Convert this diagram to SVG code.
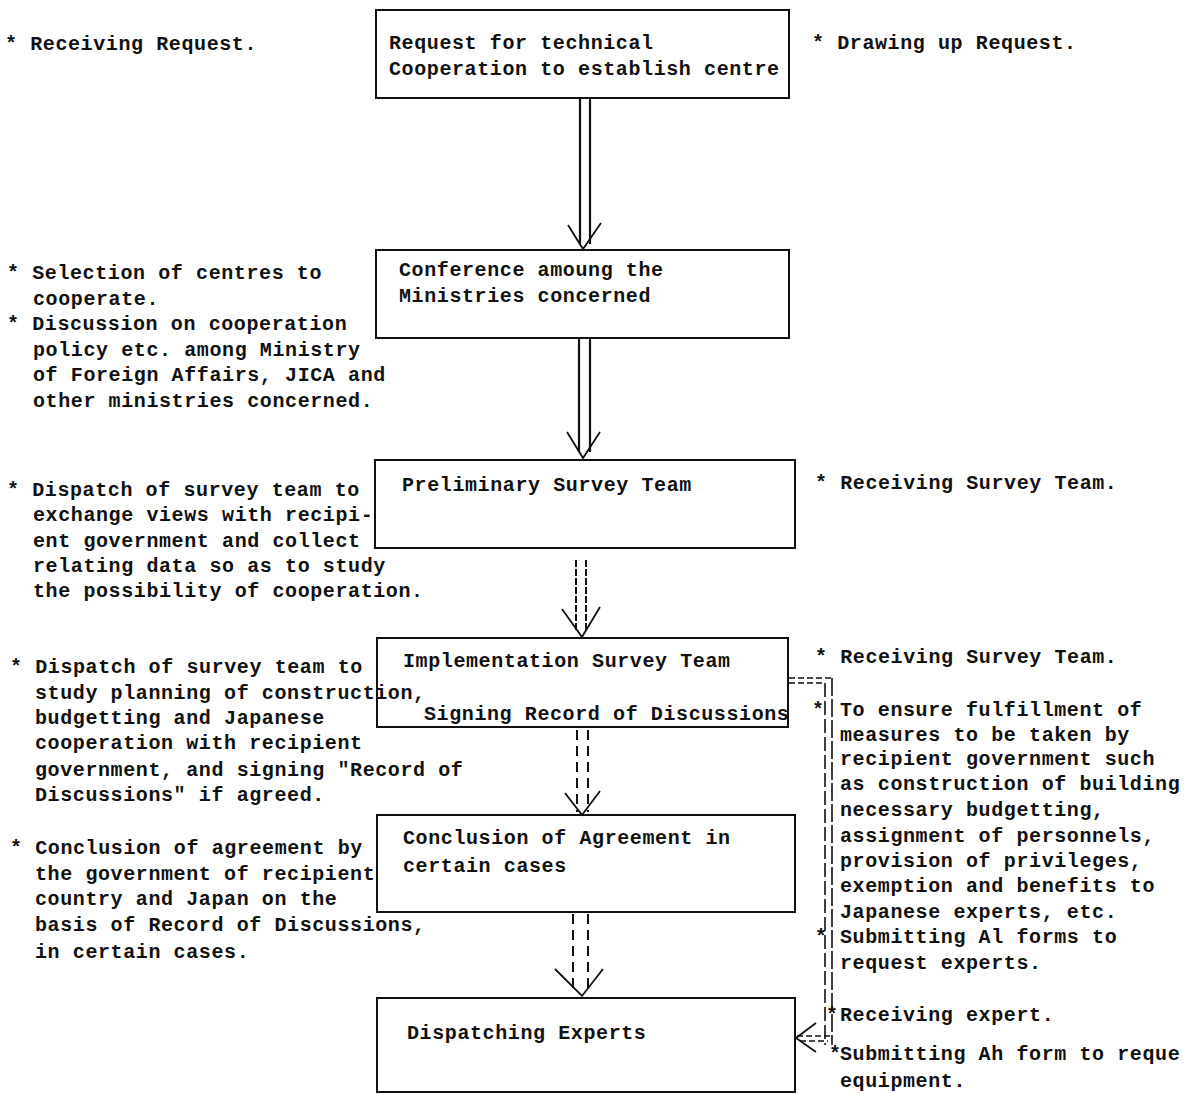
<svg xmlns="http://www.w3.org/2000/svg" width="1187" height="1094" viewBox="0 0 1187 1094">
<style>
.t{font-family:"Liberation Mono","Courier New",monospace;font-size:20px;letter-spacing:0.6px;fill:#111;font-weight:bold}
.box{fill:none;stroke:#111;stroke-width:2}
.ln{fill:none;stroke:#111;stroke-width:2.2}
.dl{fill:none;stroke:#111;stroke-width:2;stroke-dasharray:10 6}
.rough{fill:none;stroke:#111;stroke-width:2;stroke-dasharray:7 2}
.hd{fill:none;stroke:#111;stroke-width:1.8;stroke-linejoin:miter}
</style>
<rect width="1187" height="1094" fill="#fff"/>

<g id="connectors">
  <g id="a1">
    <line class="ln" x1="580" y1="98" x2="580" y2="244"/>
    <line class="ln" x1="590" y1="98" x2="590" y2="244"/>
    <polyline class="hd" points="568,225 583,249 601,223"/>
  </g>
  <g id="a2">
    <line class="ln" x1="579" y1="339" x2="579" y2="452"/>
    <line class="ln" x1="590" y1="339" x2="590" y2="452"/>
    <polyline class="hd" points="567,432 583,458 600,432"/>
  </g>
  <g id="a3">
    <line class="rough" x1="576" y1="560" x2="576" y2="632"/>
    <line class="rough" x1="586" y1="560" x2="586" y2="632"/>
    <polyline class="hd" points="562,609 582,637 600,607"/>
  </g>
  <g id="a4">
    <line class="dl" x1="577" y1="730" x2="577" y2="812"/>
    <line class="dl" x1="588" y1="730" x2="588" y2="812"/>
    <polyline class="hd" points="565,793 582,815 600,791"/>
  </g>
  <g id="a5">
    <line class="dl" x1="573" y1="914" x2="573" y2="990"/>
    <line class="dl" x1="588" y1="914" x2="588" y2="990"/>
    <polyline class="hd" points="555,969 582,996 603,969"/>
  </g>
  <g id="a6">
    <line class="dl" x1="789" y1="678" x2="831" y2="678" style="stroke-dasharray:6 3;stroke-width:1.6"/>
    <line class="dl" x1="789" y1="683" x2="825" y2="683" style="stroke-dasharray:6 3;stroke-width:1.6"/>
    <line class="dl" x1="825" y1="683" x2="825" y2="1045" style="stroke-dasharray:14 4;stroke-width:1.6"/>
    <line class="dl" x1="832" y1="678" x2="832" y2="1045" style="stroke-dasharray:18 3;stroke-width:1.6"/>
    <line class="dl" x1="797" y1="1036" x2="832" y2="1036" style="stroke-dasharray:6 3;stroke-width:1.4"/>
    <line class="dl" x1="800" y1="1041" x2="828" y2="1041" style="stroke-dasharray:6 3;stroke-width:1.4"/>
    <polyline class="hd" points="816,1023 796,1038 816,1052"/>
  </g>
</g>

<g id="n1">
  <rect class="box" x="376" y="10" width="413" height="88"/>
  <text class="t" x="389" y="49">Request for technical</text>
  <text class="t" x="389" y="75">Cooperation to establish centre</text>
</g>
<g id="n2">
  <rect class="box" x="376" y="250" width="413" height="88"/>
  <text class="t" x="399" y="276">Conference amoung the</text>
  <text class="t" x="399" y="302">Ministries concerned</text>
</g>
<g id="n3">
  <rect class="box" x="375" y="460" width="420" height="88"/>
  <text class="t" x="402" y="491">Preliminary Survey Team</text>
</g>
<g id="n4">
  <rect class="box" x="377" y="638" width="411" height="89"/>
  <text class="t" x="403" y="667">Implementation Survey Team</text>
  <text class="t" x="424" y="720">Signing Record of Discussions</text>
</g>
<g id="n5">
  <rect class="box" x="377" y="815" width="418" height="97"/>
  <text class="t" x="403" y="844">Conclusion of Agreement in</text>
  <text class="t" x="403" y="872">certain cases</text>
</g>
<g id="n6">
  <rect class="box" x="377" y="998" width="418" height="94"/>
  <text class="t" x="407" y="1039">Dispatching Experts</text>
</g>

<g id="notes-left">
  <text class="t" x="5" y="50">* Receiving Request.</text>
  <text class="t" x="7" y="279">* Selection of centres to</text>
  <text class="t" x="33" y="305">cooperate.</text>
  <text class="t" x="7" y="330">* Discussion on cooperation</text>
  <text class="t" x="33" y="356">policy etc. among Ministry</text>
  <text class="t" x="33" y="381">of Foreign Affairs, JICA and</text>
  <text class="t" x="33" y="407">other ministries concerned.</text>
  <text class="t" x="7" y="496">* Dispatch of survey team to</text>
  <text class="t" x="33" y="521">exchange views with recipi-</text>
  <text class="t" x="33" y="547">ent government and collect</text>
  <text class="t" x="33" y="572">relating data so as to study</text>
  <text class="t" x="33" y="597">the possibility of cooperation.</text>
  <text class="t" x="10" y="673">* Dispatch of survey team to</text>
  <text class="t" x="35" y="699">study planning of construction,</text>
  <text class="t" x="35" y="724">budgetting and Japanese</text>
  <text class="t" x="35" y="749">cooperation with recipient</text>
  <text class="t" x="35" y="776">government, and signing "Record of</text>
  <text class="t" x="35" y="801">Discussions" if agreed.</text>
  <text class="t" x="10" y="854">* Conclusion of agreement by</text>
  <text class="t" x="35" y="880">the government of recipient</text>
  <text class="t" x="35" y="905">country and Japan on the</text>
  <text class="t" x="35" y="931">basis of Record of Discussions,</text>
  <text class="t" x="35" y="958">in certain cases.</text>
</g>

<g id="notes-right">
  <text class="t" x="812" y="49">* Drawing up Request.</text>
  <text class="t" x="815" y="489">* Receiving Survey Team.</text>
  <text class="t" x="815" y="663">* Receiving Survey Team.</text>
  <text class="t" x="812" y="716">*</text>
  <text class="t" x="840" y="716">To ensure fulfillment of</text>
  <text class="t" x="840" y="741">measures to be taken by</text>
  <text class="t" x="840" y="765">recipient government such</text>
  <text class="t" x="840" y="790">as construction of building</text>
  <text class="t" x="840" y="816">necessary budgetting,</text>
  <text class="t" x="840" y="842">assignment of personnels,</text>
  <text class="t" x="840" y="867">provision of privileges,</text>
  <text class="t" x="840" y="892">exemption and benefits to</text>
  <text class="t" x="840" y="918">Japanese experts, etc.</text>
  <text class="t" x="815" y="943">*</text>
  <text class="t" x="840" y="943">Submitting Al forms to</text>
  <text class="t" x="840" y="969">request experts.</text>
  <text class="t" x="826" y="1021">*</text>
  <text class="t" x="840" y="1021">Receiving expert.</text>
  <text class="t" x="829" y="1060">*</text>
  <text class="t" x="840" y="1060">Submitting Ah form to reque</text>
  <text class="t" x="840" y="1087">equipment.</text>
</g>
</svg>
